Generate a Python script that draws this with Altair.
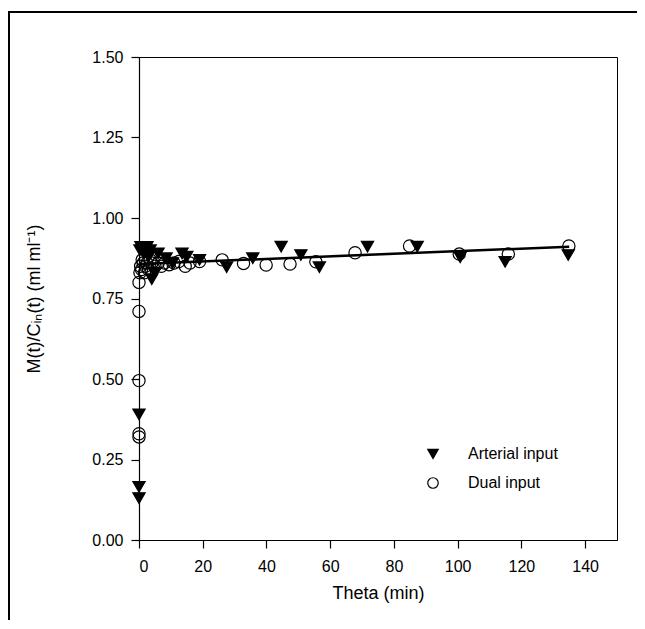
import altair as alt
import pandas as pd

# Arterial input (filled down-triangles)
art_t = [0, 0, 0, 0.3, 0.6, 1.0, 1.5, 2.0, 2.5, 3.0, 3.5, 4.0, 5.0, 6.0, 8.5, 10.5,
         13.5, 15.0, 19.0, 27.5, 35.7, 44.6, 50.8, 56.6, 71.7, 87.3, 100.8, 114.9, 134.7]
art_v = [0.13, 0.165, 0.39, 0.90, 0.91, 0.90, 0.89, 0.90, 0.91, 0.88, 0.90, 0.81, 0.83,
         0.89, 0.875, 0.86, 0.89, 0.88, 0.87, 0.847, 0.875, 0.911, 0.885, 0.847, 0.911,
         0.911, 0.878, 0.864, 0.885]

# Dual input (open circles)
dual_t = [0, 0, 0, 0, 0, 0.3, 0.5, 0.8, 1.0, 1.3, 1.7, 2.0, 2.5, 3.0, 3.5, 4.0, 5.0, 6.0,
          7.0, 8.0, 9.5, 11.0, 12.5, 14.5, 16.0, 19.0, 26.1, 32.8, 39.9, 47.4, 55.5, 67.8,
          84.9, 100.5, 115.9, 134.9]
dual_v = [0.32, 0.33, 0.495, 0.71, 0.80, 0.83, 0.85, 0.84, 0.87, 0.86, 0.83, 0.85, 0.86,
          0.84, 0.87, 0.86, 0.85, 0.86, 0.85, 0.86, 0.855, 0.86, 0.865, 0.85, 0.86, 0.865,
          0.87, 0.859, 0.854, 0.857, 0.864, 0.892, 0.913, 0.888, 0.888, 0.913]

# Regression line end points
line_t = [0, 135]
line_v = [0.857, 0.911]

series_names = ["Arterial input", "Dual input"]
x_ticks = [0, 20, 40, 60, 80, 100, 120, 140]
y_ticks = [0.0, 0.25, 0.5, 0.75, 1.0, 1.25, 1.5]

pts = pd.DataFrame({
    "t": art_t + dual_t,
    "v": art_v + dual_v,
    "series": [series_names[0]] * len(art_t) + [series_names[1]] * len(dual_t),
})
ln = pd.DataFrame({"t": line_t, "v": line_v})
one = pd.DataFrame({"k": [0]})

FONT = "Liberation Sans"

xenc = alt.X("t:Q", scale=alt.Scale(domain=[0, 150], nice=False, zero=False),
             axis=alt.Axis(values=x_ticks, title="Theta (min)"))
yenc = alt.Y("v:Q", scale=alt.Scale(domain=[0, 1.5], nice=False),
             axis=alt.Axis(values=y_ticks, format=".2f",
                           title="M(t)/Cᵢₙ(t) (ml ml⁻¹)"))

line = alt.Chart(ln).mark_line(color="black", strokeWidth=2.5).encode(x=xenc, y=yenc)

legend = alt.Legend(title=None, orient="none", legendX=286, legendY=389,
                    symbolSize=110, labelFontSize=16, labelFont=FONT, labelColor="black",
                    labelOffset=27, rowPadding=13, symbolOffset=0,
                    symbolStrokeWidth=1.2)

points = alt.Chart(pts).mark_point(filled=False, strokeWidth=1.2,
                                   size=150, opacity=1).encode(
    x=xenc, y=yenc,
    shape=alt.Shape("series:N", scale=alt.Scale(domain=series_names,
                                                range=["triangle-down", "circle"]),
                    legend=legend),
    fill=alt.Fill("series:N", scale=alt.Scale(domain=series_names,
                                              range=["black", "transparent"]),
                  legend=legend),
    stroke=alt.Stroke("series:N", scale=alt.Scale(domain=series_names,
                                                  range=["black", "black"]),
                      legend=legend),
)

# outer figure frame: an outlined box whose right and bottom edges fall outside the page
frame = alt.Chart(one).mark_rect(fill="transparent", stroke="black", strokeWidth=2).encode(
    x=alt.value(-130), x2=alt.value(560), y=alt.value(-45), y2=alt.value(620))

chart = alt.layer(frame, line, points).properties(
    width=478, height=483,
    autosize=alt.AutoSizeParams(type="none"),
    padding={"left": 131, "top": 49, "right": 20, "bottom": 80},
).configure_view(
    stroke="black", strokeWidth=1
).configure_axis(
    domainColor="black", domainWidth=1.2, tickColor="black", tickSize=8, tickWidth=1.2,
    labelFont=FONT, labelFontSize=16, labelColor="black",
    titleFont=FONT, titleFontSize=18, titleFontWeight="normal", titleColor="black",
    grid=False,
).configure_axisY(titlePadding=48, labelPadding=8).configure_axisX(
    titlePadding=10, labelPadding=10)

chart.save("out.html", embed_options={"renderer": "svg", "actions": False})
